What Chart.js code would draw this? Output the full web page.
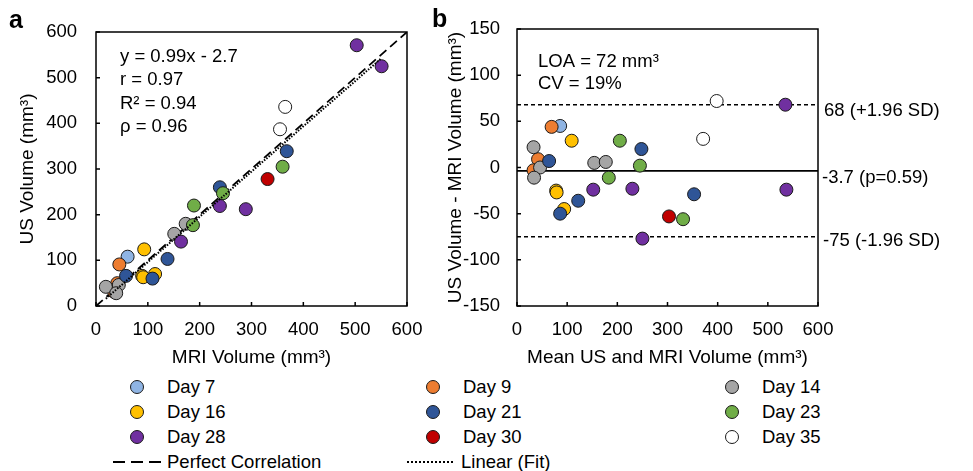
<!DOCTYPE html>
<html>
<head>
<meta charset="utf-8">
<script src="https://cdn.jsdelivr.net/npm/chart.js@4.4.1/dist/chart.umd.min.js"></script>
<style>
body{margin:0;background:#fff}
#wrap{position:relative;width:973px;height:471px;overflow:hidden;background:#fff;font-family:"Liberation Sans",Arial,sans-serif}
canvas{position:absolute;top:0}
#cA{left:0}
#cB{left:420px}
.lg{position:absolute;font-size:18.5px;line-height:22px;height:22px;color:#000;white-space:nowrap}
.mk{position:absolute;width:14px;height:14px;border-radius:50%;border:1px solid #1a1a1a;box-sizing:border-box}
.ln{position:absolute;height:2px}
.dash{background:repeating-linear-gradient(to right,#000 0 12px,transparent 12px 18px)}
.dot{background:repeating-linear-gradient(to right,#000 0 2px,transparent 2px 4px)}
</style>
</head>
<body>
<div id="wrap">
  <canvas id="cA" width="450" height="372"></canvas>
  <canvas id="cB" width="553" height="372"></canvas>
  <div id="legend"></div>
</div>
<script>
const days = ['Day 7','Day 9','Day 14','Day 16','Day 21','Day 23','Day 28','Day 30','Day 35'];
const dayColors = ['#8FB4E3','#ED7D31','#A5A5A5','#FFC000','#2F5597','#70AD47','#7030A0','#C00000','#FFFFFF'];

// panel a : MRI volume (x) vs US volume (y), one list per day
const mriByDay = [
  [61],
  [45, 41, 35],
  [19, 44, 39, 151, 173],
  [93, 89, 114, 91],
  [58, 109, 138, 239, 368],
  [189, 187, 245, 360],
  [164, 239, 289, 503, 551],
  [331],
  [355, 365]
];
const usByDay = [
  [108],
  [91, 50, 31],
  [42, 46, 28, 158, 180],
  [124, 66, 70, 63],
  [66, 60, 103, 260, 339],
  [220, 177, 247, 305],
  [141, 219, 212, 571, 525],
  [278],
  [387, 436]
];
const perfectX = [0, 600], perfectY = [0, 600];
const fitX = [19, 551], fitY = [16, 543];
const statsA = ['y = 0.99x - 2.7', 'r = 0.97', 'R\u00b2 = 0.94', '\u03c1 = 0.96'];

// panel b : Bland-Altman, mean (x) vs difference (y)
const meanByDay = [
  [86],
  [69, 42, 33],
  [33, 46, 34, 154, 177],
  [109, 78, 94, 79],
  [64, 86, 122, 248, 353],
  [205, 183, 245, 331],
  [152, 230, 250, 535, 537],
  [303],
  [371, 398]
];
const diffByDay = [
  [45],
  [44, 9, -3],
  [22, 0, -11, 5, 6],
  [29, -25, -45, -27],
  [7, -50, -36, 20, -29],
  [29, -11, 2, -56],
  [-24, -23, -77, 68, -24],
  [-53],
  [31, 72]
];
const biasVal = -3.7, upperLoa = 68, lowerLoa = -75;
const biasLabel = '-3.7 (p=0.59)', upperLabel = '68 (+1.96 SD)', lowerLabel = '-75 (-1.96 SD)';
const statsB = ['LOA = 72 mm\u00b3', 'CV = 19%'];

Chart.defaults.font.family = '"Liberation Sans", Arial, sans-serif';
Chart.defaults.color = '#000';

const FONT = '18.5px "Liberation Sans", Arial, sans-serif';

function pointSets(xs, ys) {
  return days.map((d, i) => ({
    label: d,
    data: xs[i].map((x, j) => ({x: x, y: ys[i][j]})),
    backgroundColor: dayColors[i],
    borderColor: '#1a1a1a',
    borderWidth: 1,
    pointRadius: 6.5,
    pointHoverRadius: 6.5,
    order: 20 - i
  }));
}

function lineSet(xs, ys, dash, width, order) {
  return {
    data: xs.map((x, j) => ({x: x, y: ys[j]})),
    showLine: true, pointRadius: 0, borderColor: '#000', borderWidth: width,
    borderDash: dash, fill: false, order: order
  };
}

function axis(min, max, step, title, isX, tickPad, titlePad, size) {
  return {
    type: 'linear', min: min, max: max,
    ticks: {stepSize: step, padding: tickPad, font: {size: 18.5}, color: '#000'},
    grid: {display: false, drawTicks: false},
    border: {display: false},
    title: {display: true, text: title, font: {size: 19}, color: '#000', padding: titlePad},
    afterFit: function(s) { if (isX) s.height = size; else s.width = size; }
  };
}

// box round the plot, inner tick marks and the text notes
function framePlugin(notes) {
  return {
    id: 'frame',
    afterDraw(chart) {
      const ctx = chart.ctx, a = chart.chartArea;
      ctx.save();
      ctx.strokeStyle = '#000';
      ctx.lineWidth = 1.5;
      ctx.strokeRect(a.left, a.top, a.right - a.left, a.bottom - a.top);
      const xs = chart.scales.x, ys = chart.scales.y;
      ctx.beginPath();
      xs.ticks.forEach(t => { const p = xs.getPixelForValue(t.value); ctx.moveTo(p, a.bottom); ctx.lineTo(p, a.bottom - 4); });
      ys.ticks.forEach(t => { const p = ys.getPixelForValue(t.value); ctx.moveTo(a.left, p); ctx.lineTo(a.left + 4, p); });
      ctx.stroke();
      notes(chart, ctx, a);
      ctx.restore();
    }
  };
}

new Chart(document.getElementById('cA'), {
  type: 'scatter',
  data: {
    datasets: [lineSet(perfectX, perfectY, [9, 5], 1.8, 30)]
      .concat(pointSets(mriByDay, usByDay))
      .concat([lineSet(fitX, fitY, [1.5, 1.5], 2, 1)])
  },
  options: {
    responsive: false, animation: false, devicePixelRatio: 1,
    layout: {padding: {top: 32, right: 43, left: 0, bottom: 0}},
    plugins: {legend: {display: false}, tooltip: {enabled: false}},
    scales: {
      x: axis(0, 600, 100, 'MRI Volume (mm\u00b3)', true, 13, {top: 0, bottom: 3}, 66),
      y: axis(0, 600, 100, 'US Volume (mm\u00b3)', false, 19, {top: 16, bottom: 0}, 96)
    }
  },
  plugins: [framePlugin(function(chart, ctx, a) {
    ctx.fillStyle = '#000';
    ctx.font = FONT;
    ctx.textBaseline = 'middle';
    ctx.textAlign = 'left';
    statsA.forEach((s, i) => ctx.fillText(s, a.left + 24, a.top + 25 + i * 23.3));
    ctx.font = 'bold 25px "Liberation Sans", Arial, sans-serif';
    ctx.textBaseline = 'alphabetic';
    ctx.fillText('a', 9, 28);
  })]
});

new Chart(document.getElementById('cB'), {
  type: 'scatter',
  data: {
    datasets: pointSets(meanByDay, diffByDay).concat([
      lineSet([0, 604], [biasVal, biasVal], [], 1.6, 30),
      lineSet([0, 604], [upperLoa, upperLoa], [4, 3], 1.5, 31),
      lineSet([0, 604], [lowerLoa, lowerLoa], [4, 3], 1.5, 32)
    ])
  },
  options: {
    responsive: false, animation: false, devicePixelRatio: 1,
    layout: {padding: {top: 29, right: 155, left: 0, bottom: 0}},
    plugins: {legend: {display: false}, tooltip: {enabled: false}},
    scales: {
      x: axis(0, 600, 100, 'Mean US and MRI Volume (mm\u00b3)', true, 13, {top: 0, bottom: 3}, 66),
      y: axis(-150, 150, 50, 'US Volume - MRI Volume (mm\u00b3)', false, 17, {top: 24, bottom: 0}, 97)
    }
  },
  plugins: [framePlugin(function(chart, ctx, a) {
    ctx.fillStyle = '#000';
    ctx.font = FONT;
    ctx.textBaseline = 'middle';
    ctx.textAlign = 'left';
    statsB.forEach((s, i) => ctx.fillText(s, a.left + 21, a.top + 33 + i * 21.5));
    const ys = chart.scales.y;
    ctx.fillText(upperLabel, a.right + 6, ys.getPixelForValue(upperLoa) + 6);
    ctx.fillText(biasLabel, a.right + 4, ys.getPixelForValue(biasVal) + 7);
    ctx.fillText(lowerLabel, a.right + 5, ys.getPixelForValue(lowerLoa) + 4);
    ctx.font = 'bold 25px "Liberation Sans", Arial, sans-serif';
    ctx.textBaseline = 'alphabetic';
    ctx.fillText('b', 12, 27);
  })]
});

// shared legend under both panels
const legendCols = [137, 433, 732];
const legendRows = [387, 412, 437, 462];
const lg = document.getElementById('legend');
days.forEach((d, i) => {
  const cx = legendCols[i % 3], cy = legendRows[Math.floor(i / 3)];
  const m = document.createElement('div');
  m.className = 'mk';
  m.style.left = (cx - 7) + 'px';
  m.style.top = (cy - 7) + 'px';
  m.style.background = dayColors[i];
  lg.appendChild(m);
  const t = document.createElement('div');
  t.className = 'lg';
  t.style.left = (cx + 30) + 'px';
  t.style.top = (cy - 11) + 'px';
  t.textContent = d;
  lg.appendChild(t);
});
[['Perfect Correlation', 113, 'dash'], ['Linear (Fit)', 407, 'dot']].forEach((e, i) => {
  const cy = legendRows[3];
  const l = document.createElement('div');
  l.className = 'ln ' + e[2];
  l.style.left = e[1] + 'px';
  l.style.width = '48px';
  l.style.top = (cy - 1) + 'px';
  lg.appendChild(l);
  const t = document.createElement('div');
  t.className = 'lg';
  t.style.left = (e[1] + 54) + 'px';
  t.style.top = (cy - 11) + 'px';
  t.textContent = e[0];
  lg.appendChild(t);
});
</script>
</body>
</html>
